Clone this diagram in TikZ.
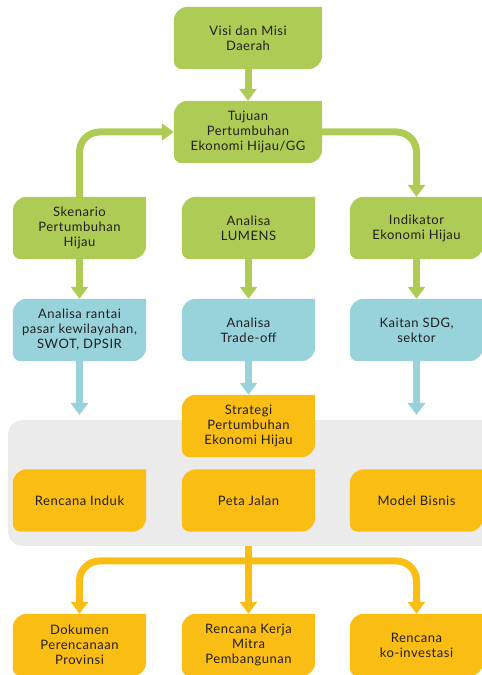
\documentclass[tikz,border=0pt]{standalone}
\usepackage{fontspec}
\setmainfont[LetterSpace=4]{Lato}
\usepackage{tikz}
\usetikzlibrary{arrows.meta,backgrounds}

\definecolor{leafgreen}{HTML}{AECB55}
\definecolor{leafblue}{HTML}{98D3DC}
\definecolor{leaforange}{HTML}{FABD14}
\definecolor{panelgray}{HTML}{EBEBEB}
\definecolor{inkdark}{HTML}{231F20}

% box with one sharp corner (top right)
\newcommand{\leafshape}[2]{%
  \fill[#2] (#1.north east) -- ([xshift=14pt]#1.north west)
    arc[start angle=90,end angle=180,radius=14pt] -- ([yshift=8pt]#1.south west)
    arc[start angle=180,end angle=270,radius=8pt] -- ([xshift=-14pt]#1.south east)
    arc[start angle=270,end angle=360,radius=14pt] -- cycle;}

\tikzset{
  leaf/.style={minimum width=133pt, minimum height=62pt, inner sep=0pt,
    align=center, text=inkdark, font=\fontsize{13}{15}\selectfont},
  wideleaf/.style={leaf, minimum width=148pt},
  flow/.style={line width=7pt, -{Triangle[width=17pt,length=12pt]}},
}

\begin{document}
\begin{tikzpicture}[x=1pt,y=1pt]
    \useasboundingbox (0,0) rectangle (482,675);

    % top
    \node[wideleaf] (visi) at (248,637) {Visi dan Misi\\Daerah};
    \node[wideleaf] (tujuan) at (248,543) {Tujuan\\Pertumbuhan\\Ekonomi Hijau/GG};

    % green row
    \node[leaf] (skenario) at (79.5,447) {Skenario\\Pertumbuhan\\Hijau};
    \node[leaf] (lumens) at (248.5,447) {Analisa\\LUMENS};
    \node[leaf] (indikator) at (416.5,447) {Indikator\\Ekonomi Hijau};

    % blue row
    \node[leaf] (rantai) at (79.5,345) {Analisa rantai\\pasar kewilayahan,\\SWOT, DPSIR};
    \node[leaf] (tradeoff) at (248.5,345) {Analisa\\Trade-off};
    \node[leaf] (sdg) at (416.5,345) {Kaitan SDG,\\sektor};

    % orange rows
    \node[leaf] (strategi) at (248.5,249) {Strategi\\Pertumbuhan\\Ekonomi Hijau};
    \node[leaf] (induk) at (79.5,174.5) {Rencana Induk};
    \node[leaf] (jalan) at (248.5,174.5) {Peta Jalan};
    \node[leaf] (bisnis) at (416.5,174.5) {Model Bisnis};
    \node[leaf] (dokumen) at (79.5,30) {Dokumen\\Perencanaan\\Provinsi};
    \node[leaf] (mitra) at (248.5,30) {Rencana Kerja\\Mitra\\Pembangunan};
    \node[leaf] (koinv) at (416.5,30) {Rencana\\ko-investasi};

    \begin{scope}[on background layer]
        \node[fill=panelgray, rounded corners=15pt, minimum width=489pt,
              minimum height=126pt, inner sep=0pt] (panel) at (252.5,192) {};
        \foreach \n in {visi,tujuan,skenario,lumens,indikator}
            \leafshape{\n}{leafgreen};
        \foreach \n in {rantai,tradeoff,sdg}
            \leafshape{\n}{leafblue};
        \foreach \n in {strategi,induk,jalan,bisnis,dokumen,mitra,koinv}
            \leafshape{\n}{leaforange};
    \end{scope}

    \coordinate (rantai-end) at (79.5,260);
    \coordinate (sdg-end) at (416.5,260);
    \coordinate (fork) at (248.5,114);

    % connectors
    \draw[flow, leafgreen] (visi) -- (tujuan);
    \draw[flow, leafgreen, rounded corners=20pt] (skenario.north) |- (tujuan.west);
    \draw[flow, leafgreen, rounded corners=20pt] (tujuan.east) -| (indikator.north);
    \draw[flow, leafgreen] (skenario) -- (rantai);
    \draw[flow, leafgreen] (lumens) -- (tradeoff);
    \draw[flow, leafgreen] (indikator) -- (sdg);

    \draw[flow, leafblue] (rantai) -- (rantai-end);
    \draw[flow, leafblue] (tradeoff) -- (strategi);
    \draw[flow, leafblue] (sdg) -- (sdg-end);

    \draw[flow, leaforange] (jalan |- panel.south) -- (mitra);
    \draw[flow, leaforange, rounded corners=20pt] (fork) -| (dokumen.north);
    \draw[flow, leaforange, rounded corners=20pt] (fork) -| (koinv.north);
\end{tikzpicture}
\end{document}
